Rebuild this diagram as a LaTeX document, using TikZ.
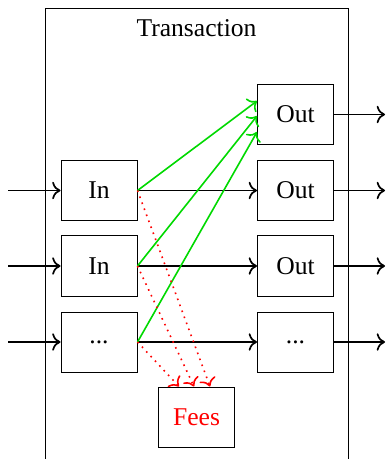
\documentclass[tikz,border=0pt]{standalone}
\usepackage{fontspec}
\setmainfont{Liberation Serif}
\usetikzlibrary{calc,arrows.meta}
\begin{document}
\begin{tikzpicture}[x=0.5pt,y=-0.5pt, >={To[scale=1.2]},
  every node/.style={font=\fontsize{12.8}{15}\selectfont},
  blk/.style={draw, line width=0.5pt, minimum width=38pt, minimum height=30pt, inner sep=0pt},
  flow/.style={->, line width=0.85pt},
  gflow/.style={->, line width=0.8pt, green!85!black},
  rflow/.style={->, line width=0.8pt, red, dash pattern=on 0.8pt off 2.4pt}]
\useasboundingbox (0,0) rectangle (387,459);
\begin{scope}
\clip (0,0) rectangle (387,459);
\draw[line width=0.5pt] (45,470) -- (45,9) -- (348,9) -- (348,470);
\end{scope}
\node (title) at (196.5,28) {Transaction};
\node[blk] (in1) at (99,190.5) {In};
\node[blk] (in2) at (99,266) {In};
\node[blk] (in3) at (99,342) {...};
\node[blk] (out0) at (295.5,114.5) {Out};
\node[blk] (out1) at (295.5,190.5) {Out};
\node[blk] (out2) at (295.5,266) {Out};
\node[blk] (out3) at (295.5,342) {...};
\node[blk, text=red] (fees) at (196.5,417) {Fees};
\coordinate (l1) at (8,190.5);
\coordinate (l2) at (8,266);
\coordinate (l3) at (8,342);
\coordinate (r0) at (385,114.5);
\coordinate (r1) at (385,190.5);
\coordinate (r2) at (385,266);
\coordinate (r3) at (385,342);
\draw[flow] (l1) -- (in1);
\draw[flow] (l2) -- (in2);
\draw[flow] (l3) -- (in3);
\draw[flow] (out0) -- (r0);
\draw[flow] (out1) -- (r1);
\draw[flow] (out2) -- (r2);
\draw[flow] (out3) -- (r3);
\draw[flow] (in1.east) -- (out1.west);
\draw[flow] (in2.east) -- (out2.west);
\draw[flow] (in3.east) -- (out3.west);
\draw[gflow] (in1.east) -- ($(out0.west)+(0,-13.5)$);
\draw[gflow] (in2.east) -- ($(out0.west)+(0,1.5)$);
\draw[gflow] (in3.east) -- ($(out0.west)+(0,17.5)$);
\draw[rflow] (in1.east) -- ($(fees.north)+(13.5,0)$);
\draw[rflow] (in2.east) -- ($(fees.north)+(-2.5,0)$);
\draw[rflow] (in3.east) -- ($(fees.north)+(-17.5,0)$);
\end{tikzpicture}
\end{document}
